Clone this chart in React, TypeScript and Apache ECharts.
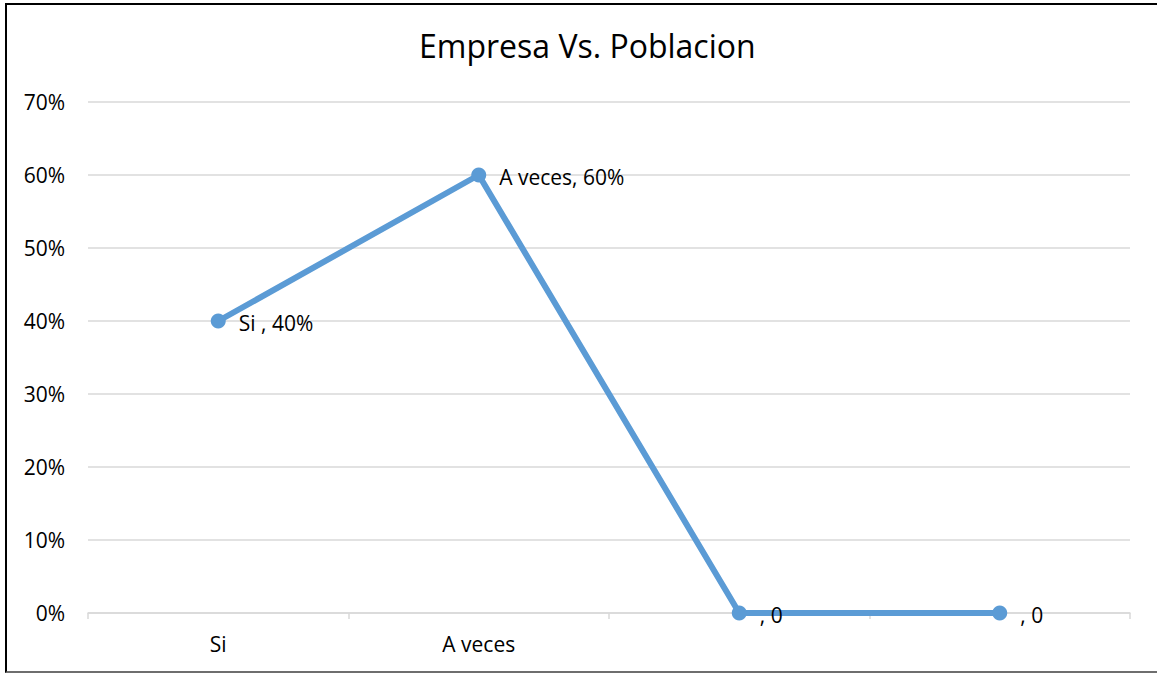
import React, { useEffect, useRef } from "react";
import * as echarts from "echarts";

const titleText = "Empresa Vs. Poblacion";
const categories = ["Si ", "A veces", "", ""];
const values = [0.4, 0.6, 0, 0];
const yTicks = { min: 0, max: 0.7, interval: 0.1 };

const FONT = "'Open Sans', Lato, sans-serif";

export default function App() {
  const ref = useRef<HTMLDivElement>(null);
  useEffect(() => {
    if (!ref.current) return;
    const chart = echarts.init(ref.current, undefined, { renderer: "svg" });
    chart.setOption({
      animation: false,
      backgroundColor: "#ffffff",
      textStyle: { fontFamily: FONT },
      title: {
        text: titleText,
        left: 414,
        top: 24,
        textStyle: { fontFamily: FONT, fontSize: 32, fontWeight: "normal", color: "#000000" },
      },
      grid: { left: 88, right: 27, top: 102, bottom: 62, containLabel: false },
      xAxis: {
        type: "category",
        data: categories,
        boundaryGap: true,
        axisLine: { show: true, lineStyle: { color: "#d9d9d9", width: 1.5 } },
        axisTick: { show: true, interval: 0, length: 6, lineStyle: { color: "#d9d9d9", width: 1.5 } },
        axisLabel: { interval: 0, margin: 20, fontSize: 21, color: "#000000", fontFamily: FONT, formatter: (v: string) => v.trim() },
        splitLine: { show: false },
      },
      yAxis: {
        type: "value",
        min: yTicks.min,
        max: yTicks.max,
        interval: yTicks.interval,
        axisLine: { show: false },
        axisTick: { show: false },
        axisLabel: {
          margin: 23,
          fontSize: 21,
          color: "#000000",
          fontFamily: FONT,
          formatter: (v: number) => `${Math.round(v * 100)}%`,
        },
        splitLine: { lineStyle: { color: "#d9d9d9", width: 1.5 } },
      },
      series: [
        {
          type: "line",
          data: values,
          symbol: "circle",
          symbolSize: 15,
          itemStyle: { color: "#5b9bd5" },
          lineStyle: { color: "#5b9bd5", width: 6 },
          label: {
            show: true,
            position: "right",
            distance: 13,
            offset: [0, 2],
            fontSize: 21,
            color: "#000000",
            fontFamily: FONT,
            formatter: (p: any) => {
              const v = p.value as number;
              const vt = v === 0 ? "0" : `${Math.round(v * 100)}%`;
              return `${categories[p.dataIndex]}, ${vt}`;
            },
          },
        },
      ],
    });
    return () => chart.dispose();
  }, []);
  return (
    <div style={{ position: "absolute", left: 0, top: 0, width: 1157, height: 675, background: "#fff" }}>
      <div ref={ref} style={{ position: "absolute", left: 0, top: 0, width: 1157, height: 675 }} />
      <div
        style={{
          position: "absolute",
          left: 5,
          top: 3,
          width: 1160,
          height: 670,
          borderLeft: "2px solid #000",
          borderTop: "2px solid #000",
          borderBottom: "2px solid #6e6e6e",
          boxSizing: "border-box",
          pointerEvents: "none",
        }}
      />
    </div>
  );
}
